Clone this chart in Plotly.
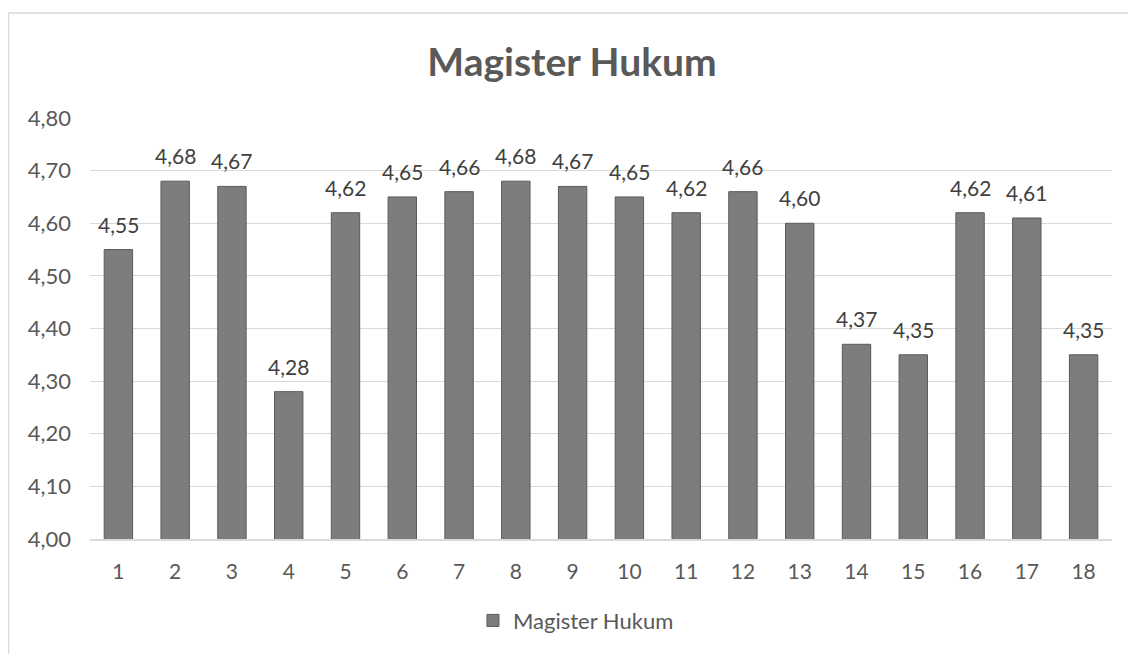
import plotly.graph_objects as go

categories = [str(i) for i in range(1, 19)]
values = [4.55, 4.68, 4.67, 4.28, 4.62, 4.65, 4.66, 4.68, 4.67, 4.65,
          4.62, 4.66, 4.60, 4.37, 4.35, 4.62, 4.61, 4.35]
series_name = "Magister Hukum"
title_text = "Magister Hukum"

FONT = "Lato, Calibri, 'Open Sans', sans-serif"
TXT = "#595959"

fig = go.Figure()
fig.add_trace(go.Bar(
    x=categories, y=values, name=series_name,
    marker=dict(color="#7d7d7d", line=dict(color="#5a5a5a", width=1)),
    width=0.5,
))

annotations = []
for i, v in enumerate(values):
    annotations.append(dict(
        x=i, y=v, xref="x", yref="y", text=f"{v:.2f}".replace(".", ","),
        showarrow=False, yanchor="bottom", yshift=11,
        font=dict(family=FONT, size=21, color="#404040"),
    ))

# page body adds an 8px offset; figure coordinates = screen - 8
OFF = 8
W, H = 1136 - OFF, 654 - OFF
L = 90 - OFF
R = W - (1112 - OFF)
T = 118 - OFF
B = H - (541 - OFF)
pw, ph = W - L - R, H - T - B
bx = (8.5 - OFF - L) / pw
by = (H - B - (12.5 - OFF)) / ph

fig.update_layout(
    width=W, height=H,
    margin=dict(l=L, r=R, t=T, b=B),
    paper_bgcolor="white", plot_bgcolor="white",
    separators=",.",
    title=dict(text=f"<b>{title_text}</b>", x=0.5, xanchor="center",
               y=1 - (62 - OFF) / H, yanchor="middle",
               font=dict(family=FONT, size=39, color=TXT)),
    font=dict(family=FONT, size=21, color=TXT),
    showlegend=True,
    legend=dict(orientation="h", x=0.4755, xanchor="center",
                y=(H - B - (623 - OFF)) / ph, yanchor="middle",
                font=dict(family=FONT, size=22, color=TXT)),
    xaxis=dict(type="category", showgrid=False, showline=True,
               linecolor="#d9d9d9", linewidth=1.5, ticks="",
               ticklabelstandoff=13,
               tickfont=dict(family=FONT, size=21, color=TXT)),
    yaxis=dict(range=[4.0, 4.8], dtick=0.1, tickformat=".2f",
               showgrid=True, gridcolor="#d9d9d9", gridwidth=1,
               zeroline=False, showline=False, ticks="",
               ticklabelstandoff=18,
               tickfont=dict(family=FONT, size=22, color=TXT)),
    annotations=annotations,
    shapes=[
        dict(type="line", xref="paper", yref="paper", x0=bx, x1=bx,
             y0=-1, y1=by, line=dict(color="#d9d9d9", width=1.5)),
        dict(type="line", xref="paper", yref="paper", x0=bx, x1=1.2,
             y0=by, y1=by, line=dict(color="#d9d9d9", width=1.5)),
    ],
)

fig.write_html("out.html")
